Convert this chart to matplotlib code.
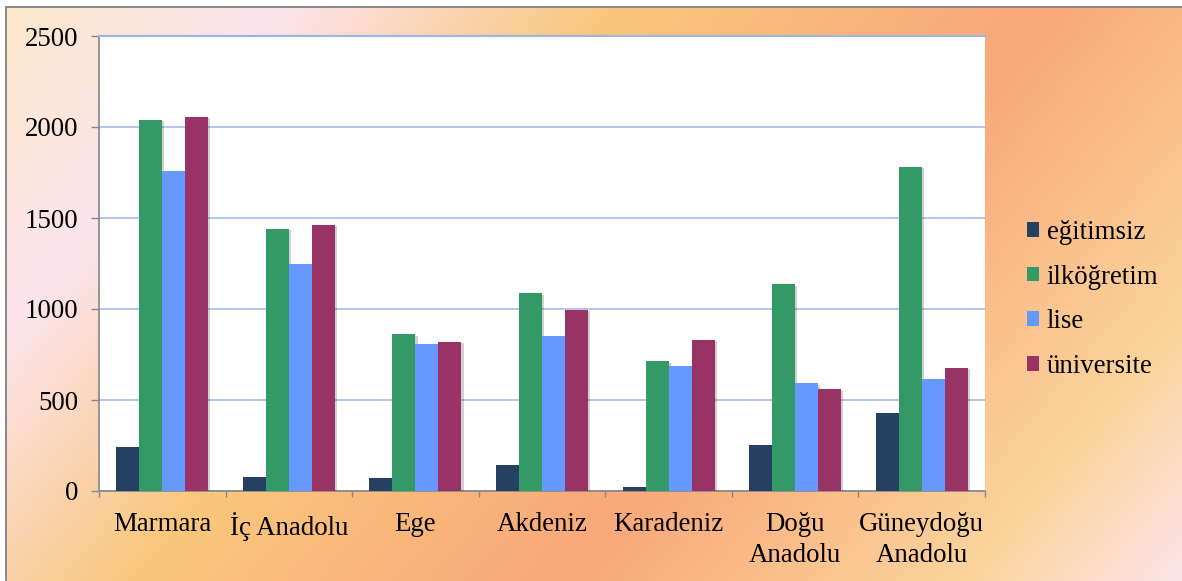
import numpy as np
import matplotlib
matplotlib.use("Agg")
import matplotlib.pyplot as plt
from matplotlib.patches import Patch
from matplotlib.colors import to_rgb
import matplotlib.patheffects as pe

# Regions and education-level counts
regions = ["Marmara", "İç Anadolu", "Ege", "Akdeniz", "Karadeniz",
           "Doğu\nAnadolu", "Güneydoğu\nAnadolu"]
egitimsiz = [242, 78, 71, 141, 22, 255, 430]
ilkogretim = [2038, 1440, 861, 1086, 712, 1136, 1782]
lise = [1758, 1247, 806, 853, 685, 592, 614]
universite = [2055, 1462, 819, 994, 831, 559, 678]

series_names = ["eğitimsiz", "ilköğretim", "lise", "üniversite"]
series_colors = ["#264061", "#339966", "#6699FF", "#993366"]
y_ticks = [0, 500, 1000, 1500, 2000, 2500]

W, H, DPI = 1182, 581, 100
FONT = "Liberation Serif"
FS = 19.4

fig = plt.figure(figsize=(W / DPI, H / DPI), dpi=DPI)
fig.patch.set_facecolor("white")

# Diagonal multi-stop background gradient
bg = fig.add_axes([0, 0, 1, 1], zorder=-10)
bg.set_axis_off()
stops = [0.0, 0.17, 0.37, 0.63, 0.87, 1.0]
stop_cols = np.array([to_rgb(c) for c in
                      ["#FBE9C9", "#FCE4EE", "#F9C77C", "#F9A87A", "#FBD59C", "#FCE3EA"]])
yy, xx = np.mgrid[0:H, 0:W].astype(float)
t = (xx + 0.84 * yy) / (W + 0.84 * H)
img = np.stack([np.interp(t, stops, stop_cols[:, k]) for k in range(3)], axis=-1)
img[:6, :, :] = 1.0
img[:, :5, :] = 1.0
img[6:8, 5:, :] = to_rgb("#8A8A8A")
img[6:, 5:7, :] = to_rgb("#8A8A8A")
bg.imshow(img, extent=[0, W, H, 0], aspect="auto", interpolation="bilinear")
bg.set_xlim(0, W)
bg.set_ylim(H, 0)

# Plot area
left, right, top, bottom = 99, 985, 36, 491
ax = fig.add_axes([left / W, 1 - bottom / H, (right - left) / W, (bottom - top) / H])
ax.set_facecolor("white")

n_series = 4
bar_w = 1 / 5.5
x = np.arange(len(regions))
shadow = [pe.SimplePatchShadow(offset=(1.5, -1.0), shadow_rgbFace="black", alpha=0.18),
          pe.Normal()]
for i, (vals, col) in enumerate(zip([egitimsiz, ilkogretim, lise, universite], series_colors)):
    offs = (i - (n_series - 1) / 2) * bar_w
    bars = ax.bar(x + offs, vals, width=bar_w, color=col, zorder=3)
    for b in bars:
        b.set_path_effects(shadow)

ax.set_xlim(-0.5, len(regions) - 0.5)
ax.set_ylim(0, 2500)
ax.set_yticks(y_ticks)
ax.set_yticklabels([str(v) for v in y_ticks], fontfamily=FONT, fontsize=FS)
ax.set_xticks(x)
ax.set_xticklabels(regions, fontfamily=FONT, fontsize=FS, linespacing=1.3)
ax.set_xticks(np.arange(-0.5, len(regions), 1.0), minor=True)
ax.tick_params(axis="x", which="major", length=0, pad=15)
ax.tick_params(axis="x", which="minor", length=6 * 72 / DPI, color="#868686", width=1.0)
ax.tick_params(axis="y", length=8 * 72 / DPI, color="#868686", width=1.0, pad=9)

ax.yaxis.grid(True, color="#B3C7EC", linewidth=1.4, zorder=0)
ax.set_axisbelow(True)
ax.spines["right"].set_visible(False)
ax.spines["top"].set_color("#9AB4E4")
ax.spines["top"].set_linewidth(1.5)
ax.spines["left"].set_color("#868686")
ax.spines["bottom"].set_color("#868686")
ax.spines["left"].set_linewidth(1.2)
ax.spines["bottom"].set_linewidth(1.2)

# Legend to the right of the plot area
handles = [Patch(facecolor=c, edgecolor="none") for c in series_colors]
fig.legend(handles, series_names, loc="center left",
           bbox_to_anchor=(1027 / W, 1 - 299.5 / H),
           frameon=False, prop={"family": FONT, "size": FS},
           handlelength=0.45, handleheight=0.45, handletextpad=0.28,
           labelspacing=0.73, borderpad=0, borderaxespad=0)

fig.savefig("out.png", dpi=DPI)
